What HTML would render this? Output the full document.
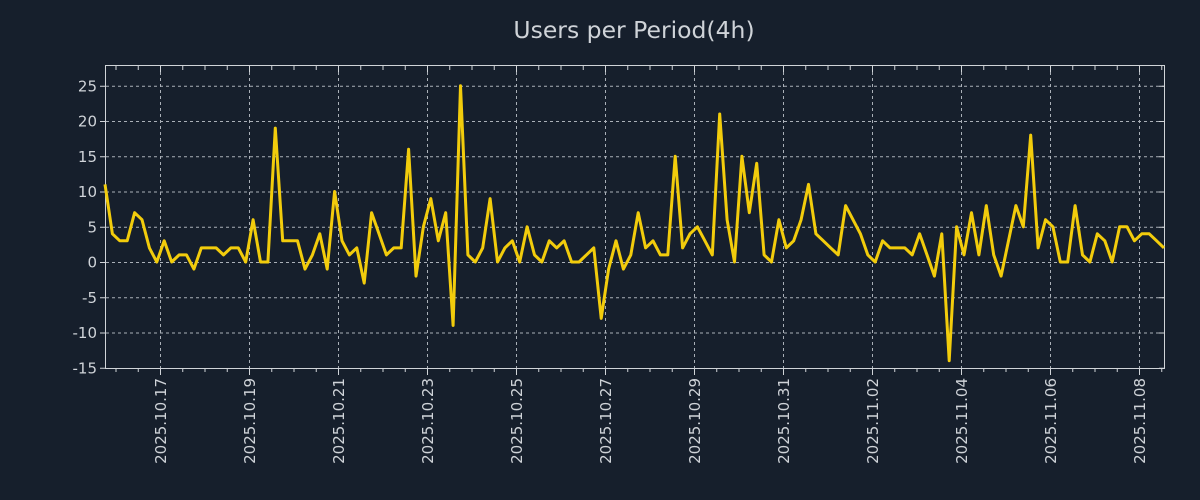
<!DOCTYPE html>
<html><head><meta charset="utf-8"><style>
html,body{margin:0;padding:0;background:#161f2c;}
svg{display:block;font-family:"DejaVu Sans","Liberation Sans",sans-serif;}
</style></head><body>
<svg id="s" width="1200" height="500" xmlns="http://www.w3.org/2000/svg">
<rect width="1200" height="500" fill="#161f2c"/>
<text x="634" y="38" text-anchor="middle" font-size="23.5" fill="#cfd3d8">Users per Period(4h)</text>
<g id="grid" stroke="#aab0b8" stroke-width="1" stroke-dasharray="3,3"></g>
<g id="ticks" stroke="#d0d4d8" stroke-width="1"></g>
<g id="labels" fill="#cfd3d8" font-size="15"></g>
<rect x="105.5" y="65.5" width="1059" height="303" fill="none" stroke="#d0d4d8" stroke-width="1"/>
<polyline id="line" fill="none" stroke="#f2cc0c" stroke-width="3" stroke-linejoin="round"/>
</svg>
<script>
var vals=[11,4,3,3,7,6,2,0,3,0,1,1,-1,2,2,2,1,2,2,0,6,0,0,19,3,3,3,-1,1,4,-1,10,3,1,2,-3,7,4,1,2,2,16,-2,5,9,3,7,-9,25,1,0,2,9,0,2,3,0,5,1,0,3,2,3,0,0,1,2,-8,-1,3,-1,1,7,2,3,1,1,15,2,4,5,3,1,21,6,0,15,7,14,1,0,6,2,3,6,11,4,3,2,1,8,6,4,1,0,3,2,2,2,1,4,1,-2,4,-14,5,1,7,1,8,1,-2,3,8,5,18,2,6,5,0,0,8,1,0,4,3,0,5,5,3,4,4,3,2];
var n=vals.length,pts=[];
function Y(v){return 262-7.05*v;}
for(var i=0;i<n;i++){pts.push((105+i*1059/(n-1)).toFixed(1)+","+Y(vals[i]).toFixed(1));}
document.getElementById('line').setAttribute('points',pts.join(' '));
var NS="http://www.w3.org/2000/svg",g=document.getElementById('grid'),t=document.getElementById('ticks'),l=document.getElementById('labels');
function el(p,tag,a,txt){var e=document.createElementNS(NS,tag);for(var k in a)e.setAttribute(k,a[k]);if(txt)e.textContent=txt;p.appendChild(e);}
for(var v=-15;v<=25;v+=5){var y=Y(v)+0.5;
 if(v>-15)el(g,'line',{x1:106,x2:1164,y1:y,y2:y});
 el(t,'line',{x1:105,x2:100,y1:y,y2:y});el(t,'line',{x1:1164,x2:1159,y1:y,y2:y});
 el(l,'text',{x:97,y:y+5,'text-anchor':'end'},String(v));}
var dates=["2025.10.17","2025.10.19","2025.10.21","2025.10.23","2025.10.25","2025.10.27","2025.10.29","2025.10.31","2025.11.02","2025.11.04","2025.11.06","2025.11.08"];
for(var i=0;i<dates.length;i++){var x=160.5+i*89;
 el(g,'line',{x1:x,x2:x,y1:66,y2:368});
 el(t,'line',{x1:x,x2:x,y1:368,y2:375});el(t,'line',{x1:x,x2:x,y1:66,y2:72});
 el(l,'text',{x:0,y:0,'text-anchor':'end',transform:'translate('+(x+5.5)+',378) rotate(-90)'},dates[i]);}
for(var x=160.5-2*22.25;x<1164;x+=22.25){if(x<106)continue;
 el(t,'line',{x1:x,x2:x,y1:368,y2:372});el(t,'line',{x1:x,x2:x,y1:66,y2:70});}
</script>
</body></html>
